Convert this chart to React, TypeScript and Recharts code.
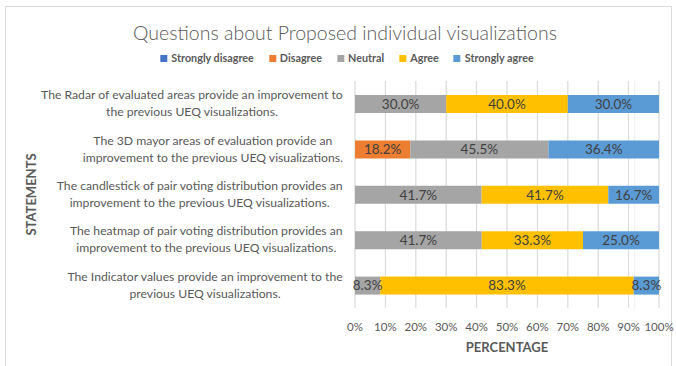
import React from 'react';
import { BarChart, Bar, XAxis, YAxis, CartesianGrid, LabelList } from 'recharts';

const categories = [
  'The Radar of evaluated areas provide an improvement to\nthe previous UEQ visualizations.',
  'The 3D mayor areas of evaluation provide an\nimprovement to the previous UEQ visualizations.',
  'The candlestick of pair voting distribution provides an\nimprovement to the previous UEQ visualizations.',
  'The heatmap of pair voting distribution provides an\nimprovement to the previous UEQ visualizations.',
  'The Indicator values provide an improvement to the\nprevious UEQ visualizations.',
];

const seriesNames = ['Strongly disagree', 'Disagree', 'Neutral', 'Agree', 'Strongly agree'];
const seriesColors = ['#4472C4', '#ED7D31', '#A5A5A5', '#FFC000', '#5B9BD5'];

const stronglyDisagree = [0, 0, 0, 0, 0];
const disagree = [0, 18.2, 0, 0, 0];
const neutral = [30.0, 45.5, 41.7, 41.7, 8.3];
const agree = [40.0, 0, 41.7, 33.3, 83.3];
const stronglyAgree = [30.0, 36.4, 16.7, 25.0, 8.3];

const majorTicks = [0, 0.1, 0.2, 0.3, 0.4, 0.5, 0.6, 0.7, 0.8, 0.9, 1];
const minorTicks = [
  0, 0.02, 0.04, 0.06, 0.08, 0.1, 0.12, 0.14, 0.16, 0.18, 0.2, 0.22, 0.24, 0.26, 0.28, 0.3,
  0.32, 0.34, 0.36, 0.38, 0.4, 0.42, 0.44, 0.46, 0.48, 0.5, 0.52, 0.54, 0.56, 0.58, 0.6,
  0.62, 0.64, 0.66, 0.68, 0.7, 0.72, 0.74, 0.76, 0.78, 0.8, 0.82, 0.84, 0.86, 0.88, 0.9,
  0.92, 0.94, 0.96, 0.98, 1,
];

const seriesValues = [stronglyDisagree, disagree, neutral, agree, stronglyAgree];

const data = categories.map((c, i) => {
  const row: any = { category: c };
  seriesNames.forEach((n, k) => {
    row[n] = seriesValues[k][i];
  });
  return row;
});

const FONT = 'Lato, "Open Sans", sans-serif';
const TEXT = '#595959';
const Y_SIZE = 12.2;

let ctx: CanvasRenderingContext2D | null = null;
function measure(text: string, font: string): number {
  if (!ctx) ctx = document.createElement('canvas').getContext('2d');
  if (!ctx) return text.length * 6;
  ctx.font = font;
  return ctx.measureText(text).width;
}

const YTick = (props: any) => {
  const { x, y, payload } = props;
  const lines = String(payload.value).split('\n');
  const font = `${Y_SIZE}px Lato`;
  const maxW = Math.max(...lines.map((l) => measure(l, font)));
  const cx = x - 12 - maxW / 2;
  return (
    <text x={cx} y={y} textAnchor="middle" fill={TEXT} fontSize={Y_SIZE} fontFamily={FONT}>
      {lines.map((l, i) => (
        <tspan key={i} x={cx} dy={i === 0 ? -(lines.length - 1) * 8.5 + 4 : 17}>
          {l}
        </tspan>
      ))}
    </text>
  );
};

const fmtLabel = (v: any) => (v && Number(v) > 0 ? `${Number(v).toFixed(1)}%` : '');

export default function App() {
  return (
    <div
      style={{
        position: 'fixed',
        left: 0,
        top: 0,
        width: 676,
        height: 366,
        overflow: 'hidden',
        background: '#fff',
        fontFamily: FONT,
      }}
    >
      <div
        style={{
          position: 'absolute',
          left: 5,
          top: 6,
          width: 667,
          height: 360,
          boxSizing: 'border-box',
          border: '1px solid #d9d9d9',
          borderBottom: 'none',
        }}
      />
      <div
        style={{
          position: 'absolute',
          left: 345,
          top: 19,
          transform: 'translateX(-50%)',
          whiteSpace: 'nowrap',
          fontSize: 19.5,
          fontWeight: 300,
          color: TEXT,
          lineHeight: '28px',
        }}
      >
        Questions about Proposed individual visualizations
      </div>
      <div
        style={{
          position: 'absolute',
          left: 347,
          top: 51,
          transform: 'translateX(-50%)',
          display: 'flex',
          alignItems: 'center',
          whiteSpace: 'nowrap',
          lineHeight: '14px',
        }}
      >
        {seriesNames.map((n, i) => (
          <div key={n} style={{ display: 'flex', alignItems: 'center', marginRight: i < seriesNames.length - 1 ? 15 : 0 }}>
            <span style={{ width: 7, height: 7, background: seriesColors[i], display: 'inline-block', marginRight: 4 }} />
            <span style={{ fontSize: 10.8, fontWeight: 700, color: TEXT }}>{n}</span>
          </div>
        ))}
      </div>
      <div style={{ position: 'absolute', left: 0, top: 0 }}>
        <BarChart
          width={676}
          height={366}
          data={data}
          layout="vertical"
          stackOffset="expand"
          barSize={18}
          margin={{ top: 81, right: 17, bottom: 0, left: 0 }}
        >
          <XAxis xAxisId="minor" type="number" domain={[0, 1]} ticks={minorTicks} hide allowDataOverflow />
          <XAxis
            xAxisId="main"
            type="number"
            domain={[0, 1]}
            ticks={majorTicks}
            allowDataOverflow
            height={58}
            axisLine={false}
            tickLine={false}
            tickSize={0}
            tickMargin={15}
            interval={0}
            tickFormatter={(v: number) => `${Math.round(v * 100)}%`}
            tick={{ fill: TEXT, fontSize: 11.5, fontFamily: FONT }}
            label={{
              content: (p: any) => {
                const vb = p.viewBox || {};
                return (
                  <text
                    x={vb.x + vb.width / 2}
                    y={vb.y + 44}
                    textAnchor="middle"
                    fill={TEXT}
                    fontSize={13}
                    fontWeight={700}
                    fontFamily={FONT}
                  >
                    PERCENTAGE
                  </text>
                );
              },
            }}
          />
          <YAxis
            type="category"
            dataKey="category"
            width={355}
            axisLine={false}
            tickLine={false}
            tickSize={0}
            tickMargin={0}
            interval={0}
            tick={<YTick />}
            label={{
              content: (p: any) => {
                const vb = p.viewBox || {};
                const cy = vb.y + vb.height / 2;
                return (
                  <text
                    x={31}
                    y={cy}
                    transform={`rotate(-90, 31, ${cy})`}
                    textAnchor="middle"
                    dominantBaseline="central"
                    fill={TEXT}
                    fontSize={13}
                    fontWeight={700}
                    fontFamily={FONT}
                  >
                    STATEMENTS
                  </text>
                );
              },
            }}
          />
          <CartesianGrid xAxisId="minor" horizontal={false} stroke="#eeeeee" />
          <CartesianGrid xAxisId="main" horizontal={false} stroke="#d9d9d9" />
          {seriesNames.map((n, i) => (
            <Bar key={n} dataKey={n} stackId="a" xAxisId="main" fill={seriesColors[i]} isAnimationActive={false}>
              <LabelList
                dataKey={n}
                position="center"
                formatter={fmtLabel}
                fill="#404040"
                fontSize={13.5}
                fontFamily={FONT}
              />
            </Bar>
          ))}
        </BarChart>
      </div>
    </div>
  );
}
